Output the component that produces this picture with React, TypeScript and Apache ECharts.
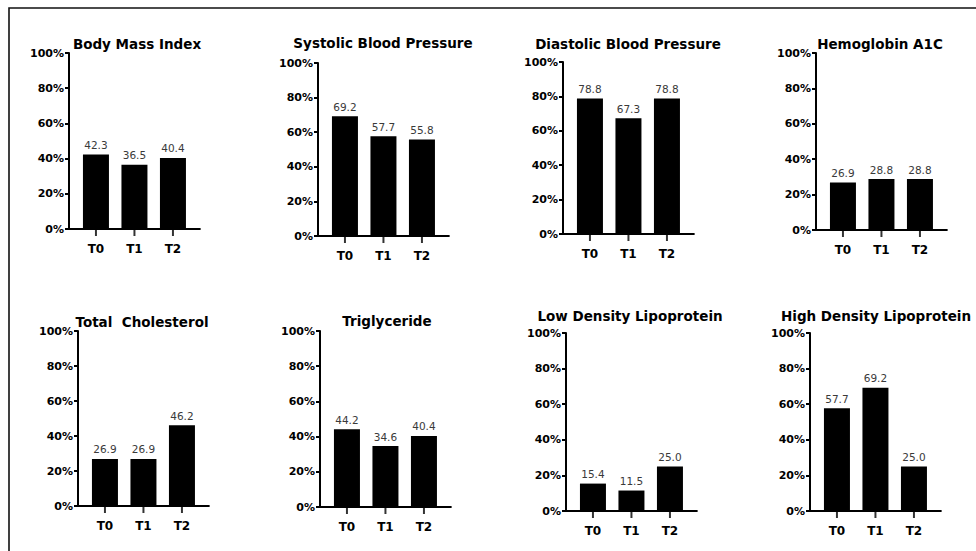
import React, { useEffect, useRef } from "react";
import * as echarts from "echarts";

const categories = ["T0", "T1", "T2"];
const titles = [
  "Body Mass Index",
  "Systolic Blood Pressure",
  "Diastolic Blood Pressure",
  "Hemoglobin A1C",
  "Total  Cholesterol",
  "Triglyceride",
  "Low Density Lipoprotein",
  "High Density Lipoprotein",
];
const bmi = [42.3, 36.5, 40.4];
const sbp = [69.2, 57.7, 55.8];
const dbp = [78.8, 67.3, 78.8];
const hba1c = [26.9, 28.8, 28.8];
const tc = [26.9, 26.9, 46.2];
const tg = [44.2, 34.6, 40.4];
const ldl = [15.4, 11.5, 25.0];
const hdl = [57.7, 69.2, 25.0];
const seriesValues = [bmi, sbp, dbp, hba1c, tc, tg, ldl, hdl];
const yMax = 100;
const yInterval = 20;

// layout: y-axis x, 100% y, 0% y, title center x, title center y
const panels = [
  { x: 69, top: 53, bottom: 229, tx: 137, ty: 44 },
  { x: 318, top: 63, bottom: 236, tx: 383, ty: 43 },
  { x: 563, top: 62, bottom: 234, tx: 628, ty: 44 },
  { x: 816, top: 53, bottom: 230, tx: 880, ty: 44 },
  { x: 78, top: 331, bottom: 506, tx: 142, ty: 322 },
  { x: 320, top: 331, bottom: 507, tx: 387, ty: 321 },
  { x: 566, top: 333, bottom: 511, tx: 630, ty: 316 },
  { x: 810, top: 333, bottom: 511, tx: 876, ty: 316 },
];
const XMIN = -0.7;
const XMAX = 2.7;
const UNIT = 38.5;
const FONT = "'DejaVu Sans', 'Liberation Sans', Arial, sans-serif";

export default function App() {
  const ref = useRef<HTMLDivElement>(null);
  useEffect(() => {
    if (!ref.current) return;
    const chart = echarts.init(ref.current, undefined, { renderer: "svg" });
    const width = (XMAX - XMIN) * UNIT;
    const catIdx = categories.map((_, j) => j);
    const grid = panels.map((p) => ({
      left: p.x,
      top: p.top,
      width,
      height: p.bottom - p.top,
      containLabel: false,
    }));
    const xAxis = panels.map((_, i) => ({
      type: "value",
      gridIndex: i,
      min: XMIN,
      max: XMAX,
      splitLine: { show: false },
      axisLine: { show: true, onZero: false, lineStyle: { color: "#000", width: 2 } },
      axisTick: { show: false },
      axisLabel: {
        customValues: catIdx,
        formatter: (v: number) => categories[Math.round(v)] ?? "",
        fontFamily: FONT,
        fontWeight: "bold",
        fontSize: 12,
        color: "#000",
        margin: 14,
      },
    }));
    const yAxis = panels.map((_, i) => ({
      type: "value",
      gridIndex: i,
      min: 0,
      max: yMax,
      interval: yInterval,
      position: "left",
      splitLine: { show: false },
      axisLine: { show: true, onZero: false, lineStyle: { color: "#000", width: 2 } },
      axisTick: { show: true, length: 4, lineStyle: { color: "#000", width: 2 } },
      axisLabel: {
        formatter: "{value}%",
        fontFamily: FONT,
        fontWeight: "bold",
        fontSize: 11,
        color: "#000",
        margin: 5,
      },
    }));
    const bars = seriesValues.map((vals, i) => ({
      type: "bar",
      xAxisIndex: i,
      yAxisIndex: i,
      barWidth: 26,
      itemStyle: { color: "#000" },
      data: vals.map((v, j) => [j, v]),
      label: {
        show: true,
        position: "top",
        distance: 4,
        fontFamily: FONT,
        fontSize: 10.5,
        color: "#3a3a3a",
        formatter: (p: any) => Number(p.value[1]).toFixed(1),
      },
      z: 2,
    }));
    // category ticks on the x axis, placed through the axis scale
    const ticks = panels.map((_, i) => ({
      type: "scatter",
      xAxisIndex: i,
      yAxisIndex: i,
      silent: true,
      clip: false,
      symbol: "rect",
      symbolSize: [2, 7],
      symbolOffset: [0, 3.5],
      itemStyle: { color: "#000" },
      data: catIdx.map((j) => [j, 0]),
      z: 3,
    }));
    const graphic: any[] = [
      {
        type: "rect",
        shape: { x: 9, y: 8, width: 1200, height: 800 },
        style: { fill: "none", stroke: "#111", lineWidth: 1.6 },
      },
      ...panels.map((p, i) => ({
        type: "text",
        x: p.tx,
        y: p.ty,
        style: {
          text: titles[i],
          fill: "#000",
          font: `bold 13.5px ${FONT}`,
          textAlign: "center",
          textVerticalAlign: "middle",
          align: "center",
          verticalAlign: "middle",
        },
      })),
    ];
    chart.setOption({
      animation: false,
      backgroundColor: "#fff",
      grid,
      xAxis,
      yAxis,
      series: [...bars, ...ticks],
      graphic,
    });
    return () => chart.dispose();
  }, []);
  return (
    <div style={{ position: "fixed", left: 0, top: 0, width: 976, height: 551, overflow: "hidden" }}>
      <div ref={ref} style={{ width: 976, height: 551 }} />
    </div>
  );
}
